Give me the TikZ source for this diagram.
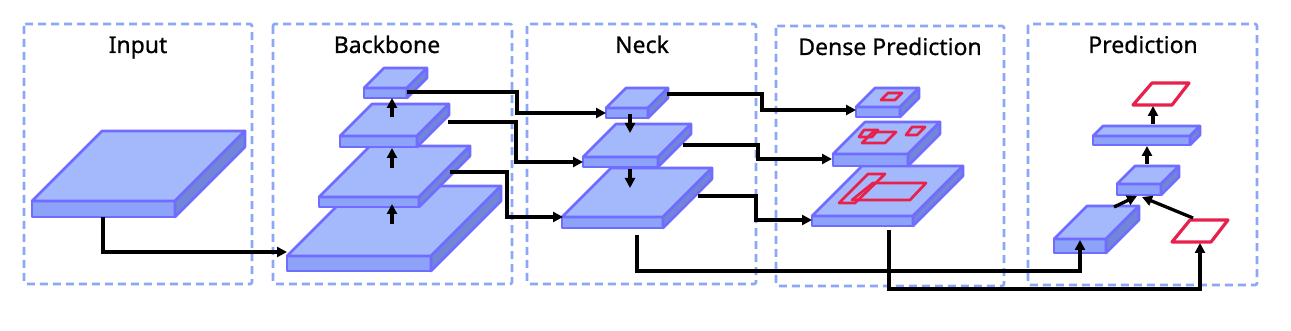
\documentclass[tikz,border=0pt]{standalone}
\usepackage{fontspec}
\setmainfont{Noto Sans}
\newfontfamily\titlefont{Noto Sans}[FakeBold=0.7]
\usetikzlibrary{arrows.meta}
\definecolor{topc}{HTML}{A4B9FB}
\definecolor{frontc}{HTML}{8DA3FA}
\definecolor{sidec}{HTML}{7286D8}
\definecolor{edgec}{HTML}{6F6CFF}
\definecolor{redc}{HTML}{E8204C}
\definecolor{panelc}{HTML}{8AA8F6}
\tikzset{
 panel/.style={draw=panelc, line width=2.6pt, dash pattern=on 8pt off 5pt, rounded corners=2pt},
 title/.style={font=\titlefont\fontsize{23}{28}\selectfont, anchor=base, inner sep=0pt},
 face/.style={draw=edgec, line width=2.6pt, line join=round},
 conn/.style={line width=3.3pt, -{Triangle[length=10pt,width=10pt]}},
 redbox/.style={draw=redc, line width=2.7pt, line join=round},
 redpar/.style={draw=redc, fill=white, line width=3.2pt, line join=round},
}
\newcommand{\drawslab}[6]{%
 \begin{scope}[shift={(#2,#3)}]
 \coordinate (#1) at (0,0);
 \filldraw[face, fill=frontc] (0,0) rectangle (#4,-#5);
 \filldraw[face, fill=topc] (0,-#5) -- (#4,-#5) -- (#4+#6,-#5-#6) -- (#6,-#5-#6) -- cycle;
 \filldraw[face, fill=sidec] (#4,-#5) -- (#4+#6,-#5-#6) -- (#4+#6,-#6) -- (#4,0) -- cycle;
 \end{scope}}
\begin{document}
\begin{tikzpicture}[x=1pt,y=-1pt]
\useasboundingbox (0,0) rectangle (1291,331);
% panels
\draw[panel] (24,24) rectangle (252,284);
\draw[panel] (273,24) rectangle (512,284);
\draw[panel] (527,24) rectangle (756,284);
\draw[panel] (776,26) rectangle (1004,286);
\draw[panel] (1028,24) rectangle (1257,285);
% titles
\node[title] (tin) at (138,53) {Input};
\node[title] (tbb) at (387,53) {Backbone};
\node[title] (tnk) at (642,53) {Neck};
\node[title] (tdp) at (890,55) {Dense Prediction};
\node[title] (tpr) at (1143,53) {Prediction};
% slabs
\drawslab{in}{32}{217}{143}{16}{70}
\drawslab{bb1}{287}{271}{144}{15}{70}
\drawslab{bb2}{319}{207}{100}{10}{51}
\drawslab{bb3}{340}{147}{77}{11}{32}
\drawslab{bb4}{364}{98}{43}{10}{20}
\drawslab{nk3}{562}{228}{101}{11}{49}
\drawslab{nk2}{583}{167}{75}{10}{33}
\drawslab{nk1}{606}{118}{42}{10}{20}
\drawslab{dp3}{812}{226}{101}{10}{50}
\drawslab{dp2}{833}{166}{75}{12}{32}
\drawslab{dp1}{856}{117}{44}{10}{19}
\drawslab{pr1}{1054}{253}{52}{14}{33}
\drawslab{pr2}{1117}{195}{44}{11}{18}
\drawslab{pr3}{1093}{145}{97}{9}{10}
% red boxes on dense prediction maps
\draw[redbox] (881,100) -- (895,100) -- (902,93) -- (888,93) -- cycle;
\draw[redbox] (859,137) -- (872,137) -- (878,130) -- (864,130) -- cycle;
\draw[redbox] (862,143) -- (885,143) -- (896,132) -- (873,132) -- cycle;
\draw[redbox] (906,135) -- (917,135) -- (925,127) -- (912,127) -- cycle;
\draw[redbox] (839,203) -- (855,203) -- (885,174) -- (868,174) -- cycle;
\draw[redbox] (852,200) -- (910,200) -- (926,183) -- (873,183) -- cycle;
% red output parallelograms
\draw[redpar] (1172,242) -- (1211,242) -- (1228,220) -- (1190,220) -- cycle;
\coordinate (rp1) at (1200,243);
\draw[redpar] (1133,105) -- (1172,105) -- (1189,83) -- (1152,83) -- cycle;
\coordinate (rp2) at (1153,106);
% connector anchors
\coordinate (inout) at (103,217);
\coordinate (bb1in) at (287,252);
\coordinate (bb4out) at (407,92);
\coordinate (bb3out) at (448,122);
\coordinate (bb2out) at (450,172);
\coordinate (nk1in) at (606,113);
\coordinate (nk2in) at (583,162);
\coordinate (nk3in) at (563,217);
\coordinate (nk1out) at (667,94);
\coordinate (nk2out) at (683,145);
\coordinate (nk3out) at (698,196);
\coordinate (nk3bot) at (637,235);
\coordinate (dp1in) at (856,110);
\coordinate (dp2in) at (832,159);
\coordinate (dp3in) at (812,220);
\coordinate (dp3bot) at (889,230);
\coordinate (pr1in) at (1080,240);
\coordinate (pr1out) at (1114,207);
\coordinate (pr2in) at (1137,196);
\coordinate (rp1out) at (1193,218);
\coordinate (pr2inb) at (1142,197);
\coordinate (pr2out) at (1147,164);
\coordinate (pr3in) at (1147,146);
\coordinate (pr3out) at (1153,124);
% vertical arrows inside backbone and neck
\draw[conn] (392,224) -- (392,204);
\draw[conn] (392,168) -- (392,148);
\draw[conn] (392,117) -- (392,98);
\draw[conn] (630,114) -- (630,133);
\draw[conn] (630,169) -- (630,188);
% connectors
\draw[conn] (inout) -- (103,252) -- (bb1in);
\draw[conn] (bb4out) -- (517,92) -- (517,113) -- (nk1in);
\draw[conn] (bb3out) -- (516,122) -- (516,162) -- (nk2in);
\draw[conn] (bb2out) -- (507,172) -- (507,217) -- (nk3in);
\draw[conn] (nk1out) -- (762,94) -- (762,110) -- (dp1in);
\draw[conn] (nk2out) -- (758,145) -- (758,159) -- (dp2in);
\draw[conn] (nk3out) -- (756,196) -- (756,220) -- (dp3in);
\draw[conn] (nk3bot) -- (637,271) -- (1080,271) -- (pr1in);
\draw[conn] (dp3bot) -- (889,289) -- (1200,289) -- (rp1);
\draw[conn] (pr1out) -- (pr2in);
\draw[conn] (rp1out) -- (pr2inb);
\draw[conn] (pr2out) -- (pr3in);
\draw[conn] (pr3out) -- (rp2);
\end{tikzpicture}
\end{document}
